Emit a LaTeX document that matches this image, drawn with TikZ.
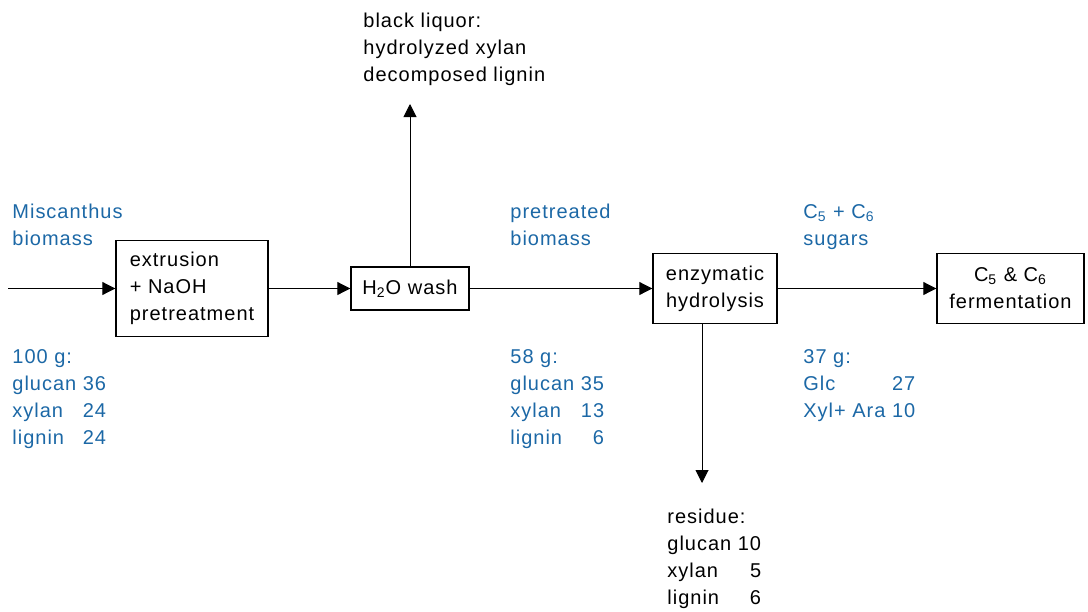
\documentclass[tikz,border=0pt]{standalone}
\usepackage{fontspec}
\setmainfont{Liberation Sans}[LetterSpace=5]
\usetikzlibrary{arrows.meta}
\definecolor{flowblue}{RGB}{28,104,166}
\tikzset{%
  procbox/.style = {rectangle,draw,line width=0.7pt,inner sep=0pt},
  bluetxt/.style = {anchor=base west,inner sep=0pt,text=flowblue},
  blacktxt/.style = {anchor=base west,inner sep=0pt},
  flowarrow/.style = {-{Triangle[length=6.5pt,width=6.5pt]},line width=0.5pt}
}

\begin{document}
\begin{tikzpicture}[x=0.5pt,y=-0.5pt,font=\fontsize{10}{13.5}\selectfont]
\useasboundingbox (0,0) rectangle (1088,611);
% process boxes
\node[procbox,minimum width=76pt,minimum height=48pt,align=left]
    (extr) at (192,288.5) {extrusion\\+ NaOH\\pretreatment};
\node[procbox,minimum width=59pt,minimum height=21.5pt]
    (wash) at (410,288.5) {H\textsubscript{2}O wash};
\node[procbox,minimum width=62pt,minimum height=35pt,align=center]
    (hydro) at (715,288.5) {enzymatic\\hydrolysis};
\node[procbox,minimum width=73.5pt,minimum height=35pt,align=center]
    (ferm) at (1010.5,288.5) {C\textsubscript{5} \& C\textsubscript{6}\\fermentation};
% free ends
\coordinate (feed) at (8,288.5);
\coordinate (liqtip) at (410,104);
\coordinate (restip) at (702,483);
% connectors
\draw[flowarrow] (feed) -- (extr);
\draw[flowarrow] (extr) -- (wash);
\draw[flowarrow] (wash) -- (hydro);
\draw[flowarrow] (hydro) -- (ferm);
\draw[flowarrow] (wash.north) -- (liqtip);
\draw[flowarrow] (restip |- hydro.south) -- (restip);
% stream labels
\node[bluetxt] (feedname) at (12,218)
    {\begin{tabular}[t]{@{}l@{}}Miscanthus\\biomass\end{tabular}};
\node[bluetxt] (feedcomp) at (12,363)
    {\begin{tabular}[t]{@{}l@{\ }r@{}}\multicolumn{2}{@{}l@{}}{100 g:}\\
      glucan&36\\xylan&24\\lignin&24\end{tabular}};
\node[bluetxt] (pretname) at (510,218)
    {\begin{tabular}[t]{@{}l@{}}pretreated\\biomass\end{tabular}};
\node[bluetxt] (pretcomp) at (510,363)
    {\begin{tabular}[t]{@{}l@{\ }r@{}}\multicolumn{2}{@{}l@{}}{58 g:}\\
      glucan&35\\xylan&13\\lignin&6\end{tabular}};
\node[bluetxt] (sugname) at (803,218)
    {\begin{tabular}[t]{@{}l@{}}C\textsubscript{5} + C\textsubscript{6}\\sugars\end{tabular}};
\node[bluetxt] (sugcomp) at (803,363)
    {\begin{tabular}[t]{@{}l@{\ }r@{}}\multicolumn{2}{@{}l@{}}{37 g:}\\
      Glc&27\\Xyl+ Ara&10\end{tabular}};
\node[blacktxt] (liquor) at (363,27)
    {\begin{tabular}[t]{@{}l@{}}black liquor:\\hydrolyzed xylan\\decomposed lignin\end{tabular}};
\node[blacktxt] (residue) at (667,523)
    {\begin{tabular}[t]{@{}l@{\ }r@{}}\multicolumn{2}{@{}l@{}}{residue:}\\
      glucan&10\\xylan&5\\lignin&6\end{tabular}};
\end{tikzpicture}
\end{document}
